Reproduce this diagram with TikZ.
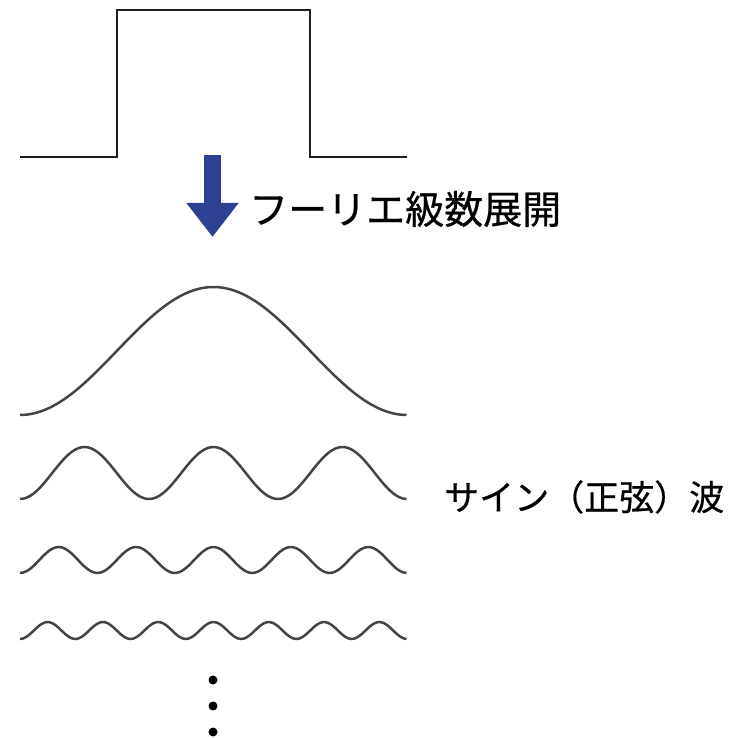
\documentclass[tikz,border=0pt]{standalone}
\usepackage{fontspec}
\usepackage{xcolor}
\usetikzlibrary{arrows.meta}
\newfontfamily\jpfont[FakeBold=0.6]{Noto Sans CJK JP}
\definecolor{arrowblue}{HTML}{2E4091}
\definecolor{wavegray}{HTML}{444444}
\definecolor{pulsegray}{HTML}{1E1E1E}

\begin{document}
\begin{tikzpicture}[x=1pt,y=-1pt,
	wave/.style={draw=wavegray,line width=2.5pt},
	label/.style={font=\jpfont,inner sep=0pt,anchor=west}]
		\useasboundingbox (0,0) rectangle (740,738);
		% rectangular pulse
		\draw[pulsegray,line width=2.5pt] (20,157) -- (117,157) -- (117,10) -- (310,10) -- (310,157) -- (407,157);
		% expansion arrow
		\coordinate (A1) at (212.5,155);
		\coordinate (A2) at (212.5,237);
		\draw[arrowblue,line width=17pt,-{Triangle[width=50pt,length=34pt]}] (A1) -- (A2);
		\node[label,font=\jpfont\fontsize{39}{39}\selectfont] (L1) at (249,209) {フーリエ級数展開};
		% sine waves: periods / base line / height
		\foreach \n/\yb/\h in {1/415/128,3/499/52,5/573/26,7/639/17}
			\draw[wave] plot[domain=0:1,samples=120,smooth] ({20+387*\x},{\yb-\h*(1-cos(\n*360*\x))/2});
		\node[label,font=\jpfont\fontsize{35}{35}\selectfont] (L2) at (444,497) {サイン（正弦）波};
		% dots
		\foreach \y in {680,706,732}
			\fill (213,\y) circle (4.5);
	\end{tikzpicture}
\end{document}
